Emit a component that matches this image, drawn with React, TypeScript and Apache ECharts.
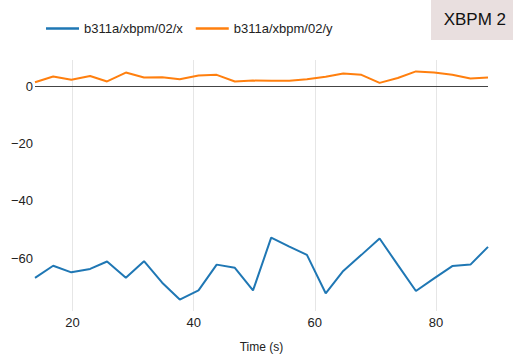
import React, { useEffect, useRef } from "react";
import * as echarts from "echarts";

const seriesNames = ["b311a/xbpm/02/x", "b311a/xbpm/02/y"];
const times = [
  13.8, 16.8, 19.8, 22.9, 25.7, 28.8, 31.8, 34.8, 37.7, 40.8, 43.8, 46.8, 49.8,
  52.8, 55.8, 58.7, 61.8, 64.7, 67.7, 70.7, 73.7, 76.7, 79.7, 82.7, 85.7, 88.6,
];
const xValues = [
  -66.8, -62.6, -64.9, -63.7, -61.1, -66.8, -61.0, -68.5, -74.4, -71.2, -62.2, -63.3, -71.2,
  -52.8, -55.9, -58.8, -72.2, -64.4, -58.8, -53.1, -62.3, -71.4, -67.0, -62.7, -62.2, -56.0,
];
const yValues = [
  1.4, 3.4, 2.3, 3.6, 1.7, 4.8, 3.1, 3.2, 2.5, 3.8, 4.0, 1.7, 2.0,
  1.9, 1.9, 2.5, 3.3, 4.5, 4.0, 1.2, 2.9, 5.2, 4.8, 4.0, 2.7, 3.1,
];
const colors = ["#1f77b4", "#ff7f0e"];
const title = "XBPM 2";
const xAxisTitle = "Time (s)";

const FONT = "'Liberation Sans', Arial, Helvetica, sans-serif";

export default function App() {
  const ref = useRef<HTMLDivElement>(null);
  useEffect(() => {
    if (!ref.current) return;
    const chart = echarts.init(ref.current, undefined, { renderer: "svg" });
    const allVals = [...xValues, ...yValues];
    const vmin = Math.min(...allVals);
    const vmax = Math.max(...allVals);
    const pad = (vmax - vmin) * 0.05;
    chart.setOption({
      animation: false,
      textStyle: { fontFamily: FONT },
      color: colors,
      grid: { left: 35, right: 25, top: 60, bottom: 41, containLabel: false },
      legend: {
        left: 41,
        top: 17,
        icon: "rect",
        itemWidth: 33,
        itemHeight: 2.5,
        itemGap: 13,
        textStyle: { fontSize: 13, color: "#222", fontFamily: FONT },
        data: seriesNames,
      },
      xAxis: {
        type: "value",
        min: Math.min(...times),
        max: Math.max(...times),
        splitNumber: 4,
        name: xAxisTitle,
        nameLocation: "middle",
        nameGap: 30,
        nameTextStyle: { fontSize: 12, color: "#222", fontFamily: FONT },
        axisLine: { show: false },
        axisTick: { show: false },
        axisLabel: {
          fontSize: 13,
          color: "#222",
          margin: 5,
          showMinLabel: false,
          showMaxLabel: false,
          fontFamily: FONT,
        },
        splitLine: {
          show: true,
          showMinLine: false,
          showMaxLine: false,
          lineStyle: { color: "#e6e6e6", width: 1 },
        },
      },
      yAxis: {
        type: "value",
        min: vmin - pad,
        max: vmax + pad,
        splitNumber: 4,
        axisLine: { show: false },
        axisTick: { show: false },
        splitLine: { show: false },
        axisLabel: {
          fontSize: 13,
          color: "#222",
          margin: 2,
          showMinLabel: false,
          showMaxLabel: false,
          fontFamily: FONT,
          formatter: (v: number) => (v < 0 ? "\u2212" + Math.abs(v) : String(v)),
        },
      },
      series: [
        {
          name: seriesNames[0],
          type: "line",
          symbol: "none",
          lineStyle: { width: 2, color: colors[0] },
          data: times.map((t, i) => [t, xValues[i]]),
          z: 3,
        },
        {
          name: seriesNames[1],
          type: "line",
          symbol: "none",
          lineStyle: { width: 2, color: colors[1] },
          data: times.map((t, i) => [t, yValues[i]]),
          z: 3,
          markLine: {
            silent: true,
            symbol: "none",
            label: { show: false },
            lineStyle: { color: "#444", width: 1, type: "solid" },
            data: [{ yAxis: 0 }],
            z: 1,
          },
        },
      ],
      graphic: [
        {
          type: "rect",
          right: 0,
          top: 0,
          shape: { width: 82, height: 40 },
          style: { fill: "#e9dfdf" },
          z: 10,
        },
        {
          type: "text",
          right: 7,
          top: 11,
          style: {
            text: title,
            fontSize: 17,
            fill: "#111",
            fontFamily: FONT,
          },
          z: 11,
        },
      ],
    });
    return () => chart.dispose();
  }, []);
  return <div ref={ref} style={{ width: 513, height: 358, position: "absolute", left: 0, top: 0 }} />;
}
